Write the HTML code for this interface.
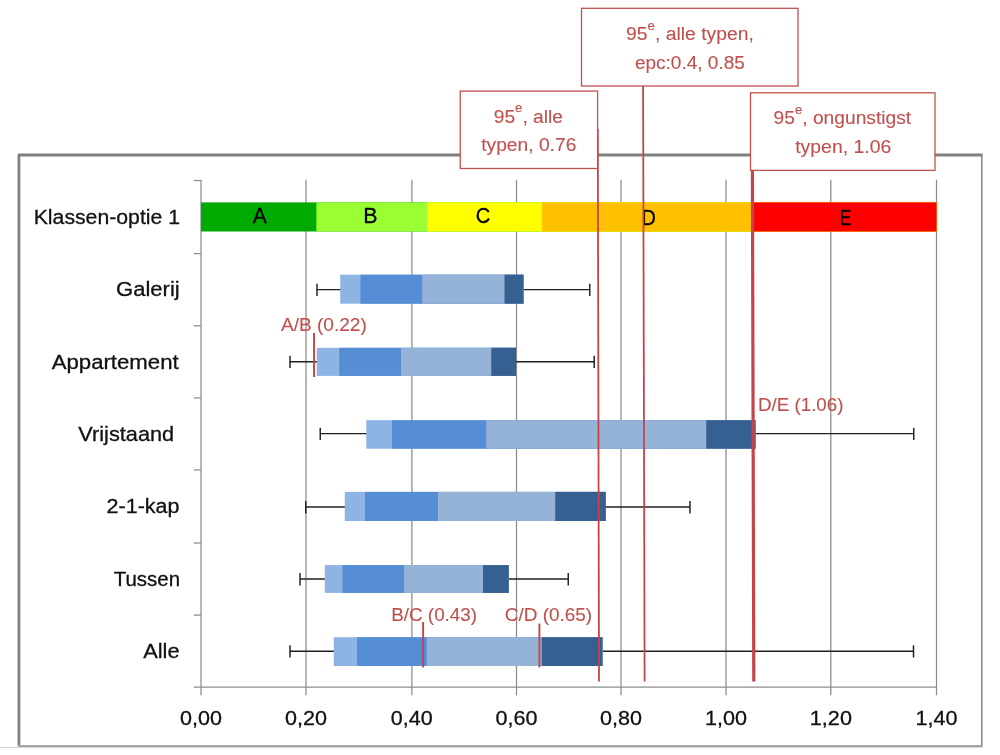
<!DOCTYPE html>
<html lang="nl"><head><meta charset="utf-8"><title>Klassen-optie 1</title>
<style>html,body{margin:0;padding:0;background:#fff;}body{width:1000px;height:755px;overflow:hidden;}svg{display:block;}text{font-family:'Liberation Sans', Arial, sans-serif;}</style>
</head><body>
<svg width="1000" height="755" viewBox="0 0 1000 755">
<rect x="0" y="0" width="1000" height="755" fill="#ffffff"/>
<g fill="none">
<path d="M18.95 746 V155 H982.6" stroke="#808080" stroke-width="2.8" stroke-linejoin="round"/>
<path d="M981.8 155 V746" stroke="#8a8a8a" stroke-width="1.6"/>
<path d="M18 746.2 H982.6" stroke="#a6a6a6" stroke-width="2.4"/>
<path d="M0 747.6 H18" stroke="#cfcfcf" stroke-width="1"/>
</g>
<g stroke="#8c8c8c" stroke-width="1.25" fill="none">
<line x1="201.00" y1="179.8" x2="201.00" y2="695.3"/>
<line x1="306.00" y1="179.8" x2="306.00" y2="695.3"/>
<line x1="411.90" y1="179.8" x2="411.90" y2="695.3"/>
<line x1="516.50" y1="179.8" x2="516.50" y2="695.3"/>
<line x1="621.00" y1="179.8" x2="621.00" y2="695.3"/>
<line x1="726.00" y1="179.8" x2="726.00" y2="695.3"/>
<line x1="830.80" y1="179.8" x2="830.80" y2="695.3"/>
<line x1="936.50" y1="179.8" x2="936.50" y2="695.3"/>
<line x1="193.80" y1="687.0" x2="937.20" y2="687.0"/>
<line x1="193.80" y1="180.50" x2="201.00" y2="180.50"/>
<line x1="193.80" y1="253.60" x2="201.00" y2="253.60"/>
<line x1="193.80" y1="325.80" x2="201.00" y2="325.80"/>
<line x1="193.80" y1="397.90" x2="201.00" y2="397.90"/>
<line x1="193.80" y1="469.90" x2="201.00" y2="469.90"/>
<line x1="193.80" y1="543.00" x2="201.00" y2="543.00"/>
<line x1="193.80" y1="615.10" x2="201.00" y2="615.10"/>
</g>
<rect x="201.00" y="202.40" width="735.60" height="29.10" fill="#00AA00"/>
<rect x="316.40" y="202.40" width="620.20" height="29.10" fill="#99FF33"/>
<rect x="427.00" y="202.40" width="509.60" height="29.10" fill="#FFFF00"/>
<rect x="541.90" y="202.40" width="394.70" height="29.10" fill="#FFC000"/>
<rect x="753.80" y="202.40" width="182.80" height="29.10" fill="#FF0000"/>
<g stroke="#202020" stroke-width="1.45" fill="none">
<path d="M317.00 289.60 H341.25 M317.00 283.70 V296.00"/>
<path d="M522.50 289.60 H589.75 M589.75 283.70 V296.00"/>
</g>
<rect x="340.25" y="274.70" width="183.25" height="29.00" fill="#8EB4E3"/>
<rect x="360.50" y="274.70" width="163.00" height="29.00" fill="#558ED5"/>
<rect x="422.25" y="274.70" width="101.25" height="29.00" fill="#95B3D7"/>
<rect x="504.50" y="274.70" width="19.00" height="29.00" fill="#376092"/>
<g stroke="#202020" stroke-width="1.45" fill="none">
<path d="M290.00 361.70 H317.75 M290.00 355.80 V368.10"/>
<path d="M515.00 361.70 H594.25 M594.25 355.80 V368.10"/>
</g>
<rect x="316.75" y="347.80" width="199.25" height="28.10" fill="#8EB4E3"/>
<rect x="339.25" y="347.80" width="176.75" height="28.10" fill="#558ED5"/>
<rect x="401.00" y="347.80" width="115.00" height="28.10" fill="#95B3D7"/>
<rect x="491.25" y="347.80" width="24.75" height="28.10" fill="#376092"/>
<g stroke="#202020" stroke-width="1.45" fill="none">
<path d="M320.25 433.60 H367.25 M320.25 427.70 V440.00"/>
<path d="M754.50 433.60 H913.75 M913.75 427.70 V440.00"/>
</g>
<rect x="366.25" y="420.20" width="389.25" height="28.50" fill="#8EB4E3"/>
<rect x="392.00" y="420.20" width="363.50" height="28.50" fill="#558ED5"/>
<rect x="486.25" y="420.20" width="269.25" height="28.50" fill="#95B3D7"/>
<rect x="706.25" y="420.20" width="49.25" height="28.50" fill="#376092"/>
<g stroke="#202020" stroke-width="1.45" fill="none">
<path d="M305.75 507.00 H345.75 M305.75 501.10 V513.40"/>
<path d="M604.75 507.00 H690.00 M690.00 501.10 V513.40"/>
</g>
<rect x="344.75" y="491.90" width="261.00" height="29.10" fill="#8EB4E3"/>
<rect x="365.00" y="491.90" width="240.75" height="29.10" fill="#558ED5"/>
<rect x="438.00" y="491.90" width="167.75" height="29.10" fill="#95B3D7"/>
<rect x="555.25" y="491.90" width="50.50" height="29.10" fill="#376092"/>
<g stroke="#202020" stroke-width="1.45" fill="none">
<path d="M300.00 579.00 H325.75 M300.00 573.10 V585.40"/>
<path d="M507.75 579.00 H568.25 M568.25 573.10 V585.40"/>
</g>
<rect x="324.75" y="565.10" width="184.00" height="27.80" fill="#8EB4E3"/>
<rect x="342.50" y="565.10" width="166.25" height="27.80" fill="#558ED5"/>
<rect x="404.00" y="565.10" width="104.75" height="27.80" fill="#95B3D7"/>
<rect x="483.00" y="565.10" width="25.75" height="27.80" fill="#376092"/>
<g stroke="#202020" stroke-width="1.45" fill="none">
<path d="M290.00 651.20 H334.75 M290.00 645.30 V657.60"/>
<path d="M601.50 651.20 H913.50 M913.50 645.30 V657.60"/>
</g>
<rect x="333.75" y="637.20" width="268.75" height="28.80" fill="#8EB4E3"/>
<rect x="357.00" y="637.20" width="245.50" height="28.80" fill="#558ED5"/>
<rect x="426.75" y="637.20" width="175.75" height="28.80" fill="#95B3D7"/>
<rect x="541.75" y="637.20" width="60.75" height="28.80" fill="#376092"/>
<text transform="translate(252.86 223.00) scale(0.9528 1)" fill="#000000" stroke="#000000" stroke-width="0.3"><tspan font-size="22">A</tspan></text>
<text transform="translate(363.14 222.70) scale(0.9736 1)" fill="#000000" stroke="#000000" stroke-width="0.3"><tspan font-size="22">B</tspan></text>
<text transform="translate(475.77 223.00) scale(0.9187 1)" fill="#000000" stroke="#000000" stroke-width="0.3"><tspan font-size="22">C</tspan></text>
<text transform="translate(641.57 225.00) scale(0.9056 1)" fill="#000000" stroke="#000000" stroke-width="0.3"><tspan font-size="22">D</tspan></text>
<text transform="translate(839.78 224.80) scale(0.7883 1)" fill="#000000" stroke="#000000" stroke-width="0.3"><tspan font-size="22">E</tspan></text>
<text transform="translate(33.71 223.75) scale(1.0112 1)" fill="#111111" stroke="#111111" stroke-width="0.3"><tspan font-size="21">Klassen-optie 1</tspan></text>
<text transform="translate(116.09 295.80) scale(1.0496 1)" fill="#111111" stroke="#111111" stroke-width="0.3"><tspan font-size="21">Galerij</tspan></text>
<text transform="translate(51.66 368.75) scale(1.0567 1)" fill="#111111" stroke="#111111" stroke-width="0.3"><tspan font-size="21">Appartement</tspan></text>
<text transform="translate(78.35 440.75) scale(1.0344 1)" fill="#111111" stroke="#111111" stroke-width="0.3"><tspan font-size="21">Vrijstaand</tspan></text>
<text transform="translate(106.62 513.25) scale(1.0229 1)" fill="#111111" stroke="#111111" stroke-width="0.3"><tspan font-size="21">2-1-kap</tspan></text>
<text transform="translate(113.74 586.00) scale(0.9749 1)" fill="#111111" stroke="#111111" stroke-width="0.3"><tspan font-size="21">Tussen</tspan></text>
<text transform="translate(143.16 658.25) scale(1.0384 1)" fill="#111111" stroke="#111111" stroke-width="0.3"><tspan font-size="21">Alle</tspan></text>
<text transform="translate(179.96 724.90) scale(1.0272 1)" fill="#111111" stroke="#111111" stroke-width="0.3"><tspan font-size="21">0,00</tspan></text>
<text transform="translate(284.96 724.90) scale(1.0272 1)" fill="#111111" stroke="#111111" stroke-width="0.3"><tspan font-size="21">0,20</tspan></text>
<text transform="translate(390.86 724.90) scale(1.0272 1)" fill="#111111" stroke="#111111" stroke-width="0.3"><tspan font-size="21">0,40</tspan></text>
<text transform="translate(495.46 724.90) scale(1.0272 1)" fill="#111111" stroke="#111111" stroke-width="0.3"><tspan font-size="21">0,60</tspan></text>
<text transform="translate(599.96 724.90) scale(1.0272 1)" fill="#111111" stroke="#111111" stroke-width="0.3"><tspan font-size="21">0,80</tspan></text>
<text transform="translate(705.05 724.90) scale(1.0299 1)" fill="#111111" stroke="#111111" stroke-width="0.3"><tspan font-size="21">1,00</tspan></text>
<text transform="translate(809.85 724.90) scale(1.0299 1)" fill="#111111" stroke="#111111" stroke-width="0.3"><tspan font-size="21">1,20</tspan></text>
<text transform="translate(915.55 724.90) scale(1.0299 1)" fill="#111111" stroke="#111111" stroke-width="0.3"><tspan font-size="21">1,40</tspan></text>
<g stroke="#C4444A" fill="none">
<line x1="597.8" y1="129" x2="599.0" y2="681.5" stroke-width="1.8"/>
<line x1="643.1" y1="86" x2="644.6" y2="681.5" stroke-width="1.8"/>
<line x1="752.4" y1="170" x2="753.8" y2="681.5" stroke-width="3.2"/>
<line x1="314.05" y1="333" x2="314.05" y2="377.0" stroke-width="1.9"/>
<line x1="423.1" y1="622" x2="423.1" y2="667.4" stroke-width="1.9"/>
<line x1="539.4" y1="623.5" x2="539.4" y2="667.4" stroke-width="1.9"/>
</g>
<text transform="translate(281.01 331.25) scale(1.0039 1)" fill="#C0504D" stroke="#C0504D" stroke-width="0.1"><tspan font-size="19">A/B (0.22)</tspan></text>
<text transform="translate(757.96 410.75) scale(0.9887 1)" fill="#C0504D" stroke="#C0504D" stroke-width="0.1"><tspan font-size="19">D/E (1.06)</tspan></text>
<text transform="translate(391.25 621.25) scale(0.9917 1)" fill="#C0504D" stroke="#C0504D" stroke-width="0.1"><tspan font-size="19">B/C (0.43)</tspan></text>
<text transform="translate(504.84 621.25) scale(0.9960 1)" fill="#C0504D" stroke="#C0504D" stroke-width="0.1"><tspan font-size="19">C/D (0.65)</tspan></text>
<rect x="460.25" y="91.10" width="137.35" height="77.40" fill="#ffffff" stroke="#C0504D" stroke-width="1.3"/>
<text transform="translate(493.70 122.60) scale(1.0125 1)" fill="#C0504D" stroke="#C0504D" stroke-width="0.1"><tspan font-size="19">95</tspan><tspan font-size="13" dy="-10.5">e</tspan><tspan font-size="19" dy="10.5">, alle</tspan></text>
<text transform="translate(481.21 150.80) scale(1.0119 1)" fill="#C0504D" stroke="#C0504D" stroke-width="0.1"><tspan font-size="19">typen, 0.76</tspan></text>
<rect x="581.50" y="8.30" width="216.50" height="77.70" fill="#ffffff" stroke="#C0504D" stroke-width="1.3"/>
<text transform="translate(626.09 40.30) scale(1.0176 1)" fill="#C0504D" stroke="#C0504D" stroke-width="0.1"><tspan font-size="19">95</tspan><tspan font-size="13" dy="-10.5">e</tspan><tspan font-size="19" dy="10.5">, alle typen,</tspan></text>
<text transform="translate(634.89 68.50) scale(1.0013 1)" fill="#C0504D" stroke="#C0504D" stroke-width="0.1"><tspan font-size="19">epc:0.4, 0.85</tspan></text>
<rect x="750.50" y="92.80" width="184.50" height="77.60" fill="#ffffff" stroke="#C0504D" stroke-width="1.3"/>
<text transform="translate(773.60 124.30) scale(1.0106 1)" fill="#C0504D" stroke="#C0504D" stroke-width="0.1"><tspan font-size="19">95</tspan><tspan font-size="13" dy="-10.5">e</tspan><tspan font-size="19" dy="10.5">, ongunstigst</tspan></text>
<text transform="translate(795.21 152.80) scale(1.0221 1)" fill="#C0504D" stroke="#C0504D" stroke-width="0.1"><tspan font-size="19">typen, 1.06</tspan></text>
</svg>
</body></html>
